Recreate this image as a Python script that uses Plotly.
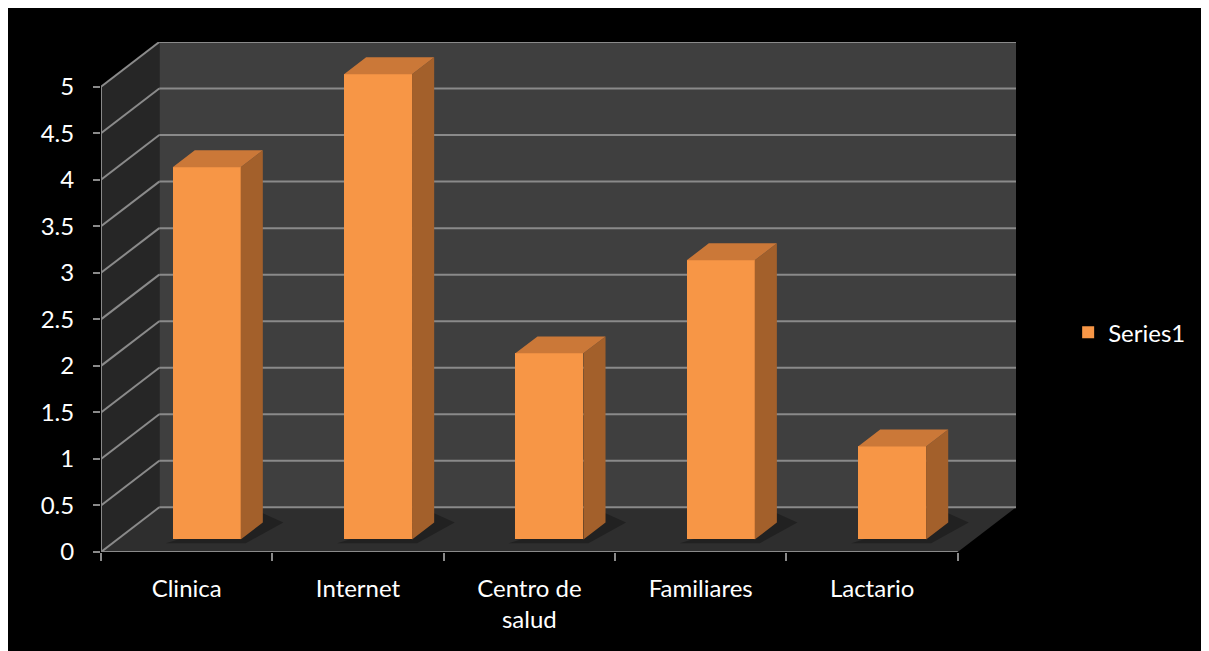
import plotly.graph_objects as go

categories = ["Clinica", "Internet", "Centro de<br>salud", "Familiares", "Lactario"]
values = [4, 5, 2, 3, 1]
series_name = "Series1"
y_ticks = [0, 0.5, 1, 1.5, 2, 2.5, 3, 3.5, 4, 4.5, 5]
y_tick_labels = ["0", "0.5", "1", "1.5", "2", "2.5", "3", "3.5", "4", "4.5", "5"]

# oblique projection of depth (in data units)
DX, DY = 0.34, 0.48
D1, D2 = 0.28, 0.66      # bar depth span
L, W = 0.323, 0.397      # bar left offset and width within a category
N = len(categories)
VMAX = max(y_ticks)

GRID = "#8a8a8a"
FRONT = "#F79646"
SIDE = "#A3602B"
TOP = "#CB7838"

fig = go.Figure()

# figure sits at an 8px page offset
W_PX, H_PX = 1209, 651
ml, mt = 93, 34
mb = H_PX - 544
mr = W_PX - 1008

shapes = []

def path(pts):
    return "M " + " L ".join(f"{x},{y}" for x, y in pts) + " Z"

# back wall
shapes.append(dict(type="path", xref="x", yref="y", layer="below",
                   path=path([(DX, DY), (N + DX, DY), (N + DX, VMAX + DY), (DX, VMAX + DY)]),
                   fillcolor="#3f3f3f", line_width=0))
# side wall
shapes.append(dict(type="path", xref="x", yref="y", layer="below",
                   path=path([(0, 0), (DX, DY), (DX, VMAX + DY), (0, VMAX)]),
                   fillcolor="#262626", line_width=0))
# floor
shapes.append(dict(type="path", xref="x", yref="y", layer="below",
                   path=path([(0, 0), (N, 0), (N + DX, DY), (DX, DY)]),
                   fillcolor="#2e2e2e", line_width=0))
# soft shadows of bars on the floor
for i, v in enumerate(values):
    xr = i + L + W
    xl = i + L
    shapes.append(dict(type="path", xref="x", yref="y", layer="below",
                       path=path([(xl + D1 * DX - 0.04, D1 * DY - 0.04),
                                  (xr + D1 * DX + 0.03, D1 * DY - 0.04),
                                  (xr + D2 * DX + 0.12, D2 * DY + 0.0),
                                  (xr + D2 * DX, D2 * DY + 0.1)]),
                       fillcolor="rgba(0,0,0,0.28)", line_width=0))
# gridlines
for v in y_ticks:
    shapes.append(dict(type="line", xref="x", yref="y", layer="below",
                       x0=0, y0=v, x1=DX, y1=v + DY, line=dict(color=GRID, width=2)))
    shapes.append(dict(type="line", xref="x", yref="y", layer="below",
                       x0=DX, y0=v + DY, x1=N + DX, y1=v + DY, line=dict(color=GRID, width=2)))
# axis lines
shapes.append(dict(type="line", xref="x", yref="y", x0=0, y0=0, x1=N, y1=0,
                   line=dict(color=GRID, width=2)))
shapes.append(dict(type="line", xref="x", yref="y", x0=0, y0=0, x1=0, y1=VMAX,
                   line=dict(color=GRID, width=2)))

# front faces
centers = [i + L + W / 2 + D1 * DX for i in range(N)]
fig.add_trace(go.Bar(x=centers, y=values, base=D1 * DY, width=W,
                     marker=dict(color=FRONT, line=dict(width=0)),
                     name=series_name, showlegend=True, hoverinfo="skip"))

# side and top faces
sx, sy = [], []
tx, ty = [], []
for i, v in enumerate(values):
    xl = i + L
    xr = i + L + W
    sx += [xr + D1 * DX, xr + D2 * DX, xr + D2 * DX, xr + D1 * DX, xr + D1 * DX, None]
    sy += [D1 * DY, D2 * DY, v + D2 * DY, v + D1 * DY, D1 * DY, None]
    tx += [xl + D1 * DX, xr + D1 * DX, xr + D2 * DX, xl + D2 * DX, xl + D1 * DX, None]
    ty += [v + D1 * DY, v + D1 * DY, v + D2 * DY, v + D2 * DY, v + D1 * DY, None]

fig.add_trace(go.Scatter(x=sx, y=sy, mode="lines", fill="toself", fillcolor=SIDE,
                         line=dict(width=0, color=SIDE), showlegend=False, hoverinfo="skip"))
fig.add_trace(go.Scatter(x=tx, y=ty, mode="lines", fill="toself", fillcolor=TOP,
                         line=dict(width=0, color=TOP), showlegend=False, hoverinfo="skip"))

fig.update_layout(
    width=W_PX, height=H_PX,
    margin=dict(l=ml, r=mr, t=mt, b=mb, pad=0),
    paper_bgcolor="black", plot_bgcolor="black",
    font=dict(family="Lato", size=24, color="white"),
    shapes=shapes,
    showlegend=True,
    legend=dict(x=1.057, y=0.43, xanchor="left", yanchor="middle",
                bgcolor="rgba(0,0,0,0)", font=dict(size=24, color="white")),
    xaxis=dict(range=[0, N + DX], showgrid=False, zeroline=False, showline=False,
               tickmode="array", tickvals=[i + 0.5 for i in range(N)], ticktext=categories,
               ticks="", ticklabelstandoff=20, fixedrange=True,
               minor=dict(tickmode="array", tickvals=list(range(N + 1)), ticks="outside",
                          ticklen=8, tickwidth=2, tickcolor=GRID, showgrid=False)),
    yaxis=dict(range=[0, VMAX + DY], showgrid=False, zeroline=False, showline=False,
               tickmode="array", tickvals=y_ticks, ticktext=y_tick_labels,
               ticks="outside", ticklen=7, tickwidth=2, tickcolor=GRID,
               ticklabelstandoff=14, fixedrange=True),
    bargap=0,
)

fig.write_html("out.html")
